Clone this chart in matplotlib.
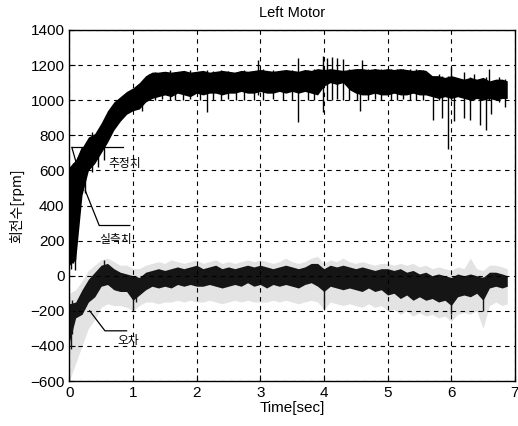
import numpy as np
import matplotlib
matplotlib.use("Agg")
from matplotlib import pyplot as plt

# sample times (sec) for the read-off envelopes
t = [0.0, 0.1, 0.2, 0.3, 0.4, 0.5, 0.6, 0.7, 0.8, 0.9,
     1.0, 1.1, 1.2, 1.3, 1.4, 1.5, 1.6, 1.7, 1.8, 1.9,
     2.0, 2.1, 2.2, 2.3, 2.4, 2.5, 2.6, 2.7, 2.8, 2.9,
     3.0, 3.1, 3.2, 3.3, 3.4, 3.5, 3.6, 3.7, 3.8, 3.9,
     4.0, 4.1, 4.2, 4.3, 4.4, 4.5, 4.6, 4.7, 4.8, 4.9,
     5.0, 5.1, 5.2, 5.3, 5.4, 5.5, 5.6, 5.7, 5.8, 5.9,
     6.0, 6.1, 6.2, 6.3, 6.4, 6.5, 6.6, 6.7, 6.8, 6.88]

# speed (measured / estimated) band, rpm
speed_hi = [620, 660, 730, 790, 810, 870, 940, 990, 1020, 1050,
            1070, 1100, 1140, 1160, 1160, 1165, 1160, 1165, 1170, 1160,
            1165, 1170, 1160, 1165, 1170, 1165, 1160, 1170, 1165, 1170,
            1175, 1170, 1165, 1170, 1175, 1170, 1165, 1175, 1170, 1180,
            1175, 1180, 1175, 1170, 1175, 1180, 1180, 1175, 1180, 1175,
            1180, 1175, 1180, 1175, 1170, 1175, 1170, 1140, 1140, 1130,
            1140, 1130, 1120, 1130, 1120, 1130, 1110, 1120, 1120, 1110]
speed_lo = [60, 90, 460, 600, 640, 700, 760, 830, 880, 920,
            940, 950, 990, 1010, 1020, 1030, 1020, 1040, 1030, 1020,
            1040, 1030, 1040, 1040, 1030, 1040, 1040, 1050, 1040, 1040,
            1050, 1040, 1040, 1050, 1040, 1050, 1040, 1050, 1040, 1030,
            1080, 1100, 1090, 1100, 1060, 1040, 1030, 1030, 1040, 1030,
            1030, 1040, 1030, 1030, 1040, 1030, 1030, 1020, 1010, 1020,
            1010, 1020, 1010, 1000, 1010, 1000, 1010, 1000, 1010, 1010]

# isolated spikes on the speed trace
spike_t = [0.03, 0.06, 0.09, 0.25, 0.35, 0.45, 0.55,
           1.14, 1.25, 1.35, 1.45, 1.58, 1.66, 1.78, 1.9, 2.05, 2.16, 2.25,
           2.38, 2.5, 2.62, 2.75, 2.9, 2.97, 3.05, 3.2, 3.35, 3.5, 3.6,
           3.75, 3.85, 3.98, 4.05, 4.12, 4.2, 4.3, 4.4, 4.52, 4.56, 4.6,
           4.7, 4.8, 4.9, 5.05, 5.15, 5.25, 5.35, 5.45, 5.55, 5.72, 5.8,
           5.85, 5.95, 6.0, 6.05, 6.2, 6.3, 6.35, 6.45, 6.55, 6.6, 6.62,
           6.75, 6.85]
spike_lo = [40, 70, 30, 470, 590, 620, 660,
            940, 1000, 1000, 1005, 1000, 1000, 1000, 1005, 1000, 930, 1000,
            1000, 1005, 1000, 1000, 1000, 1030, 1000, 1005, 1000, 1000, 875,
            1000, 1000, 935, 1000, 1000, 1005, 1000, 1000, 1000, 940, 1040,
            1000, 1005, 1000, 1000, 1000, 1005, 1000, 1000, 1000, 890, 1000,
            900, 720, 1000, 880, 900, 890, 1000, 860, 830, 1000, 920,
            990, 960]
spike_hi = [560, 640, 450, 720, 820, 830, 850,
            1080, 1150, 1160, 1160, 1170, 1160, 1165, 1170, 1160, 1170, 1165,
            1170, 1165, 1160, 1170, 1165, 1230, 1175, 1170, 1165, 1170, 1240,
            1170, 1175, 1250, 1240, 1245, 1240, 1235, 1180, 1180, 1180, 1230,
            1175, 1180, 1175, 1180, 1175, 1180, 1175, 1175, 1170, 1140, 1150,
            1140, 1140, 1190, 1130, 1160, 1130, 1150, 1120, 1130, 1180, 1110,
            1130, 1120]

# speed error band, rpm
err_hi = [-160, -150, -80, -20, 20, 60, 70, 40, 20, 10,
          0, -10, 20, 30, 40, 30, 40, 50, 40, 50,
          60, 40, 50, 60, 40, 50, 40, 50, 60, 50,
          60, 50, 40, 50, 60, 50, 40, 50, 70, 70,
          40, 60, 50, 60, 50, 40, 50, 40, 30, 40,
          40, 30, 40, 20, 30, 10, 20, 0, 10, 0,
          -10, 10, 0, 10, 0, -10, 20, 20, 10, 0]
err_lo = [-380, -240, -220, -150, -120, -60, -50, -80, -90, -90,
          -140, -110, -80, -60, -70, -60, -70, -50, -60, -50,
          -60, -60, -50, -60, -70, -60, -50, -60, -40, -60,
          -50, -70, -50, -60, -50, -60, -70, -50, -40, -60,
          -90, -60, -70, -80, -70, -80, -90, -70, -90, -80,
          -110, -100, -130, -110, -140, -120, -140, -130, -150, -140,
          -170, -120, -110, -120, -100, -140, -70, -60, -70, -60]

# faint scattered points around the error
grey_hi = [-100, -80, -30, 30, 60, 90, 100, 80, 60, 60,
           40, 40, 60, 70, 80, 70, 90, 80, 70, 80,
           90, 70, 80, 90, 70, 80, 70, 80, 90, 80,
           90, 80, 70, 80, 100, 80, 70, 80, 100, 110,
           70, 90, 80, 100, 80, 70, 80, 70, 60, 70,
           70, 60, 70, 60, 70, 50, 60, 40, 50, 40,
           30, 50, 40, 100, 40, 30, 60, 60, 50, 40]
grey_lo = [-600, -500, -400, -300, -250, -180, -160, -170, -170, -180,
           -200, -170, -150, -150, -160, -150, -150, -140, -150, -140,
           -150, -150, -140, -150, -160, -150, -140, -150, -140, -150,
           -150, -150, -140, -150, -140, -150, -160, -150, -140, -150,
           -190, -150, -160, -170, -160, -170, -180, -160, -180, -170,
           -200, -190, -220, -200, -230, -210, -230, -220, -240, -230,
           -260, -220, -210, -220, -200, -300, -170, -150, -170, -160]

err_spike_t = [0.02, 0.05, 0.55, 1.0, 1.05, 4.0, 6.0, 6.5]
err_spike_lo = [-420, -330, -40, -200, -150, -190, -220, -200]
err_spike_hi = [-180, -140, 90, -10, 0, 40, -20, -10]

# annotation callouts: (text, text position, leader line points)
notes = ["추정치", "실측치", "오차"]
note_xy = [(0.87, 640), (0.72, 205), (0.92, -370)]
note_lines = [([0.04, 0.84], [731, 731]),
              ([0.25, 0.47, 0.95], [486, 286, 286]),
              ([0.32, 0.56, 0.90], [-200, -314, -314])]
note_arrows = [([0.04, 0.12], [731, 629]), ([0.20, 0.07], [726, 611])]

xticks = [0, 1, 2, 3, 4, 5, 6, 7]
yticks = [-600, -400, -200, 0, 200, 400, 600, 800, 1000, 1200, 1400]

plt.rcParams['font.family'] = ['Liberation Sans', 'Noto Sans CJK KR', 'DejaVu Sans']
kr = ['Noto Sans CJK KR', 'DejaVu Sans']

fig = plt.figure(figsize=(5.18, 4.26), dpi=100)
ax = fig.add_axes([0.1338, 0.1056, 0.8602, 0.824])

# error: faint envelope, then dark band
ax.fill_between(t, grey_lo, grey_hi, color='#e3e3e3', lw=0)
ax.fill_between(t, err_lo, err_hi, color='#151515', lw=0)
ax.vlines(err_spike_t, err_spike_lo, err_spike_hi, color='#151515', lw=1.0)

# speed band
ax.fill_between(t, speed_lo, speed_hi, color='black', lw=0)
ax.vlines(spike_t, spike_lo, spike_hi, color='black', lw=1.0)

for (lx, ly) in note_lines + note_arrows:
  ax.plot(lx, ly, color='black', lw=0.9)
for txt, (nx, ny) in zip(notes, note_xy):
  ax.text(nx, ny, txt, family=kr, fontsize=8.5, ha='center', va='center')

ax.set_xlim(0, 7)
ax.set_ylim(-600, 1400)
ax.set_xticks(xticks)
ax.set_yticks(yticks)
ax.tick_params(direction='in', length=4, labelsize=11, colors='black')
ax.grid(True, color='black', linestyle=(0, (4, 4)), linewidth=0.8)
for s in ax.spines.values():
  s.set_linewidth(1.0)

ax.set_title("Left Motor", fontsize=10.5, pad=9)
ax.set_xlabel("Time[sec]", fontsize=11, labelpad=1)
ax.set_ylabel("회전수[rpm]", family=kr, fontsize=10, labelpad=4)

fig.savefig("out.png", dpi=100)
